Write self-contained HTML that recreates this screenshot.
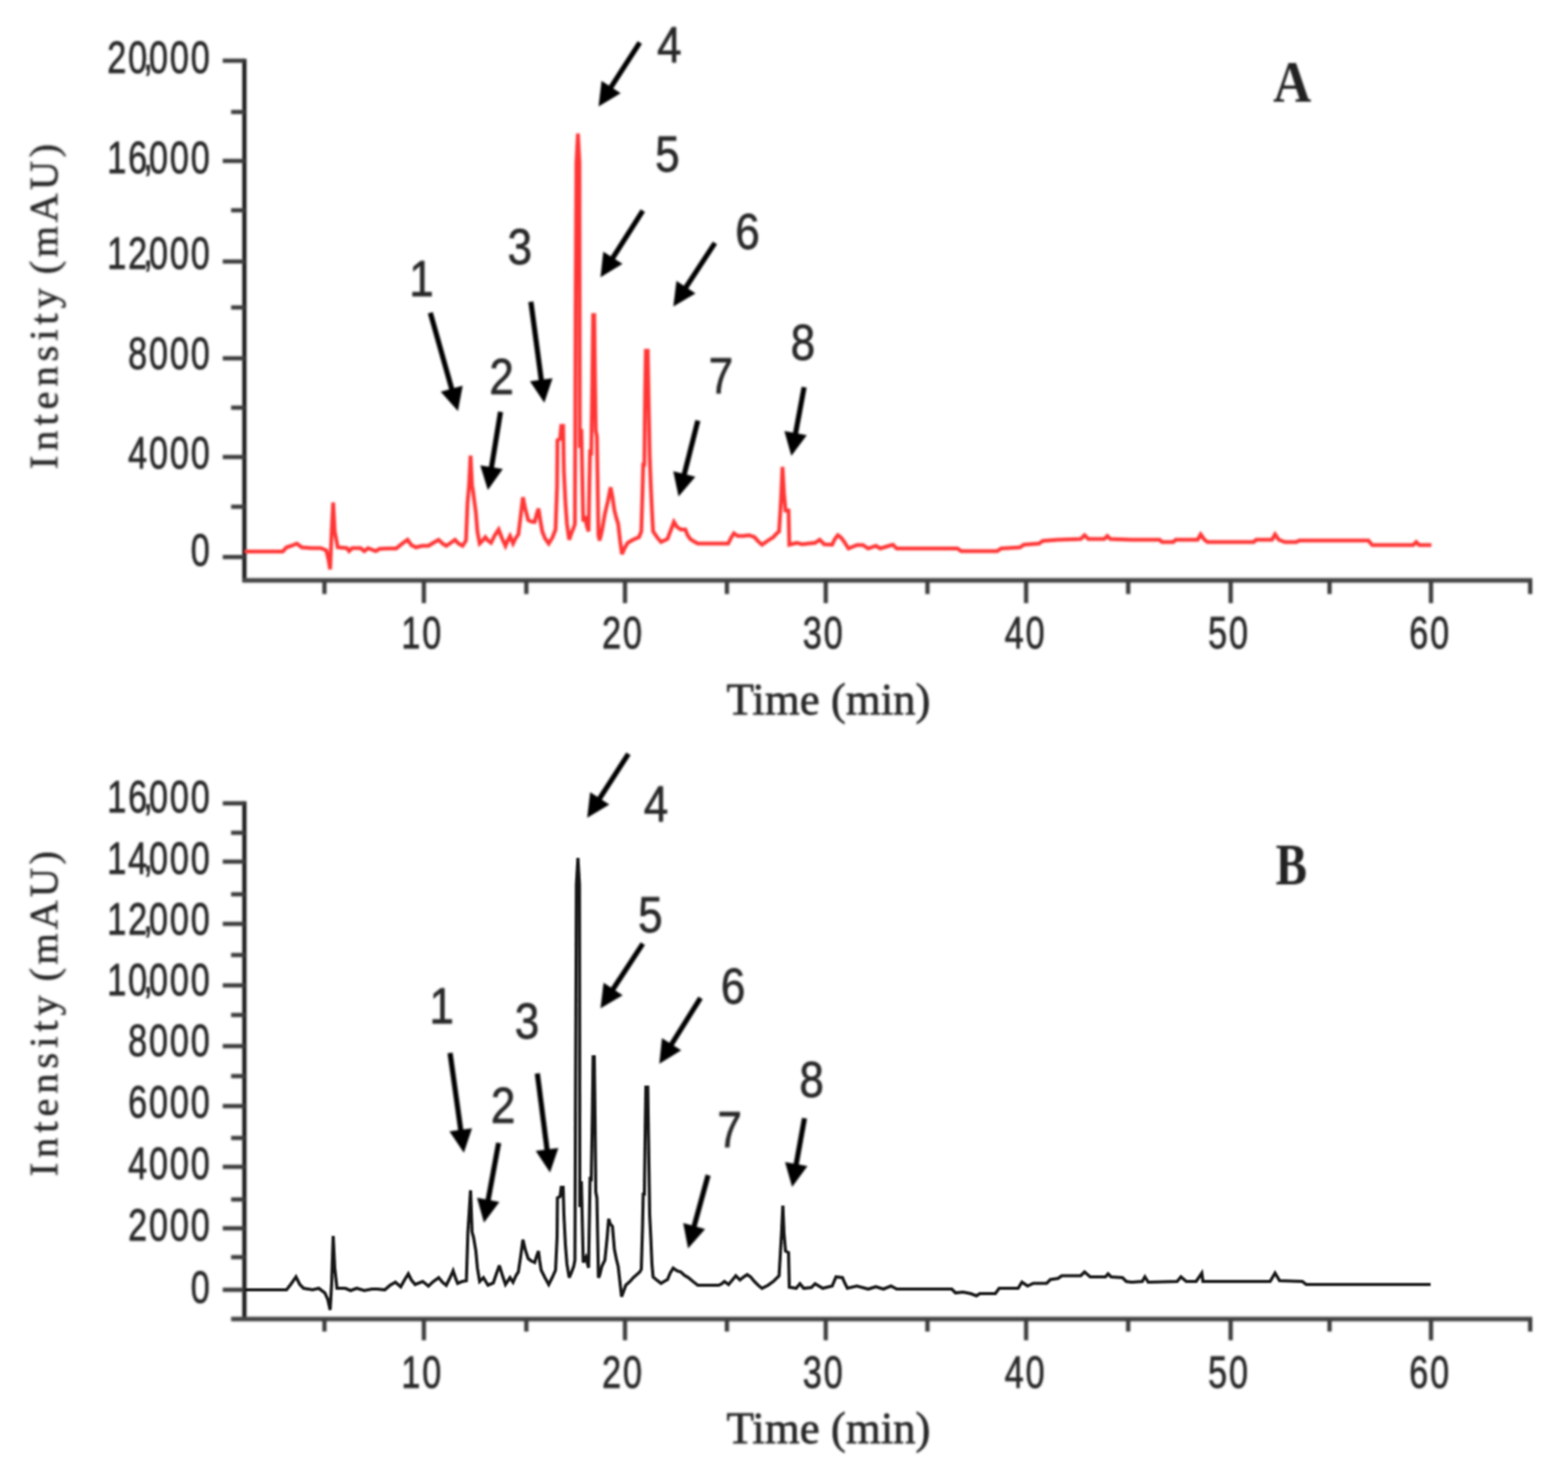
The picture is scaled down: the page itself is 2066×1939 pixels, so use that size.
<!DOCTYPE html>
<html lang="en"><head><meta charset="utf-8"><title>Chromatograms A and B</title>
<style>html,body{margin:0;padding:0;background:#fff;}body{width:2066px;height:1939px;overflow:hidden;}svg{display:block;}</style>
</head><body>
<svg width="2066" height="1939" viewBox="0 0 2066 1939">
<defs>
<filter id="bl" x="0" y="0" width="2066" height="1939" filterUnits="userSpaceOnUse"><feGaussianBlur stdDeviation="1.6"/></filter>
<filter id="bt" x="0" y="0" width="2066" height="1939" filterUnits="userSpaceOnUse"><feGaussianBlur stdDeviation="1.4"/></filter>
<filter id="bk" x="0" y="0" width="2066" height="1939" filterUnits="userSpaceOnUse"><feGaussianBlur stdDeviation="1.25"/></filter>
</defs>
<rect width="2066" height="1939" fill="#fff"/>
<g filter="url(#bl)">
<line x1="322" y1="77.5" x2="322" y2="767" stroke="#1c1c1c" stroke-width="5.6"/>
<line x1="319.5" y1="764.5" x2="2019" y2="764.5" stroke="#444" stroke-width="6.2"/>
<line x1="293.5" y1="80" x2="322" y2="80" stroke="#3c3c3c" stroke-width="5.6"/>
<line x1="304.5" y1="147.5" x2="322" y2="147.5" stroke="#3c3c3c" stroke-width="5.6"/>
<line x1="293.5" y1="212" x2="322" y2="212" stroke="#3c3c3c" stroke-width="5.6"/>
<line x1="304.5" y1="277" x2="322" y2="277" stroke="#3c3c3c" stroke-width="5.6"/>
<line x1="293.5" y1="344.5" x2="322" y2="344.5" stroke="#3c3c3c" stroke-width="5.6"/>
<line x1="304.5" y1="405" x2="322" y2="405" stroke="#3c3c3c" stroke-width="5.6"/>
<line x1="293.5" y1="472" x2="322" y2="472" stroke="#3c3c3c" stroke-width="5.6"/>
<line x1="304.5" y1="537" x2="322" y2="537" stroke="#3c3c3c" stroke-width="5.6"/>
<line x1="293.5" y1="602" x2="322" y2="602" stroke="#3c3c3c" stroke-width="5.6"/>
<line x1="304.5" y1="667.5" x2="322" y2="667.5" stroke="#3c3c3c" stroke-width="5.6"/>
<line x1="293.5" y1="733.75" x2="322" y2="733.75" stroke="#3c3c3c" stroke-width="5.6"/>
<line x1="427.5" y1="764.5" x2="427.5" y2="782.5" stroke="#3c3c3c" stroke-width="5.6"/>
<line x1="558.5" y1="764.5" x2="558.5" y2="794.5" stroke="#3c3c3c" stroke-width="5.6"/>
<line x1="693.5" y1="764.5" x2="693.5" y2="782.5" stroke="#3c3c3c" stroke-width="5.6"/>
<line x1="823.5" y1="764.5" x2="823.5" y2="794.5" stroke="#3c3c3c" stroke-width="5.6"/>
<line x1="957.8" y1="764.5" x2="957.8" y2="782.5" stroke="#3c3c3c" stroke-width="5.6"/>
<line x1="1088.0" y1="764.5" x2="1088.0" y2="794.5" stroke="#3c3c3c" stroke-width="5.6"/>
<line x1="1222.0" y1="764.5" x2="1222.0" y2="782.5" stroke="#3c3c3c" stroke-width="5.6"/>
<line x1="1352.0" y1="764.5" x2="1352.0" y2="794.5" stroke="#3c3c3c" stroke-width="5.6"/>
<line x1="1486.5" y1="764.5" x2="1486.5" y2="782.5" stroke="#3c3c3c" stroke-width="5.6"/>
<line x1="1621.5" y1="764.5" x2="1621.5" y2="794.5" stroke="#3c3c3c" stroke-width="5.6"/>
<line x1="1751.8" y1="764.5" x2="1751.8" y2="782.5" stroke="#3c3c3c" stroke-width="5.6"/>
<line x1="1885.5" y1="764.5" x2="1885.5" y2="794.5" stroke="#3c3c3c" stroke-width="5.6"/>
<line x1="2016.2" y1="764.5" x2="2016.2" y2="782.5" stroke="#3c3c3c" stroke-width="5.6"/>
<line x1="322" y1="1055.5" x2="322" y2="1740" stroke="#1c1c1c" stroke-width="5.6"/>
<line x1="304.5" y1="1737.5" x2="2019" y2="1737.5" stroke="#444" stroke-width="6.2"/>
<line x1="293.5" y1="1058.2" x2="322" y2="1058.2" stroke="#3c3c3c" stroke-width="5.6"/>
<line x1="304.5" y1="1097.0" x2="322" y2="1097.0" stroke="#3c3c3c" stroke-width="5.6"/>
<line x1="293.5" y1="1135.0" x2="322" y2="1135.0" stroke="#3c3c3c" stroke-width="5.6"/>
<line x1="304.5" y1="1178.0" x2="322" y2="1178.0" stroke="#3c3c3c" stroke-width="5.6"/>
<line x1="293.5" y1="1217.0" x2="322" y2="1217.0" stroke="#3c3c3c" stroke-width="5.6"/>
<line x1="304.5" y1="1258.0" x2="322" y2="1258.0" stroke="#3c3c3c" stroke-width="5.6"/>
<line x1="293.5" y1="1298.0" x2="322" y2="1298.0" stroke="#3c3c3c" stroke-width="5.6"/>
<line x1="304.5" y1="1337.0" x2="322" y2="1337.0" stroke="#3c3c3c" stroke-width="5.6"/>
<line x1="293.5" y1="1378.0" x2="322" y2="1378.0" stroke="#3c3c3c" stroke-width="5.6"/>
<line x1="304.5" y1="1417.5" x2="322" y2="1417.5" stroke="#3c3c3c" stroke-width="5.6"/>
<line x1="293.5" y1="1457.0" x2="322" y2="1457.0" stroke="#3c3c3c" stroke-width="5.6"/>
<line x1="304.5" y1="1499.0" x2="322" y2="1499.0" stroke="#3c3c3c" stroke-width="5.6"/>
<line x1="293.5" y1="1537.0" x2="322" y2="1537.0" stroke="#3c3c3c" stroke-width="5.6"/>
<line x1="304.5" y1="1580.0" x2="322" y2="1580.0" stroke="#3c3c3c" stroke-width="5.6"/>
<line x1="293.5" y1="1618.0" x2="322" y2="1618.0" stroke="#3c3c3c" stroke-width="5.6"/>
<line x1="304.5" y1="1656.0" x2="322" y2="1656.0" stroke="#3c3c3c" stroke-width="5.6"/>
<line x1="293.5" y1="1699.0" x2="322" y2="1699.0" stroke="#3c3c3c" stroke-width="5.6"/>
<line x1="427.5" y1="1737.5" x2="427.5" y2="1754.0" stroke="#3c3c3c" stroke-width="5.6"/>
<line x1="558.5" y1="1737.5" x2="558.5" y2="1765.5" stroke="#3c3c3c" stroke-width="5.6"/>
<line x1="693.5" y1="1737.5" x2="693.5" y2="1754.0" stroke="#3c3c3c" stroke-width="5.6"/>
<line x1="823.5" y1="1737.5" x2="823.5" y2="1765.5" stroke="#3c3c3c" stroke-width="5.6"/>
<line x1="957.8" y1="1737.5" x2="957.8" y2="1754.0" stroke="#3c3c3c" stroke-width="5.6"/>
<line x1="1088.0" y1="1737.5" x2="1088.0" y2="1765.5" stroke="#3c3c3c" stroke-width="5.6"/>
<line x1="1222.0" y1="1737.5" x2="1222.0" y2="1754.0" stroke="#3c3c3c" stroke-width="5.6"/>
<line x1="1352.0" y1="1737.5" x2="1352.0" y2="1765.5" stroke="#3c3c3c" stroke-width="5.6"/>
<line x1="1486.5" y1="1737.5" x2="1486.5" y2="1754.0" stroke="#3c3c3c" stroke-width="5.6"/>
<line x1="1621.5" y1="1737.5" x2="1621.5" y2="1765.5" stroke="#3c3c3c" stroke-width="5.6"/>
<line x1="1751.8" y1="1737.5" x2="1751.8" y2="1754.0" stroke="#3c3c3c" stroke-width="5.6"/>
<line x1="1885.5" y1="1737.5" x2="1885.5" y2="1765.5" stroke="#3c3c3c" stroke-width="5.6"/>
<line x1="2016.2" y1="1737.5" x2="2016.2" y2="1754.0" stroke="#3c3c3c" stroke-width="5.6"/>
</g>
<g filter="url(#bt)">
<text transform="translate(278.8,96.1) scale(0.754,1)" text-anchor="end" font-family="'Liberation Sans', Arial, sans-serif" font-size="60" letter-spacing="3.1" fill="#262626" stroke="#262626" stroke-width="0.9">20<tspan dx="-10.2" dy="-4">,</tspan><tspan dx="-9.6" dy="4">000</tspan></text>
<text transform="translate(278.8,228.1) scale(0.754,1)" text-anchor="end" font-family="'Liberation Sans', Arial, sans-serif" font-size="60" letter-spacing="3.1" fill="#262626" stroke="#262626" stroke-width="0.9">16<tspan dx="-10.2" dy="-4">,</tspan><tspan dx="-9.6" dy="4">000</tspan></text>
<text transform="translate(278.8,354.1) scale(0.754,1)" text-anchor="end" font-family="'Liberation Sans', Arial, sans-serif" font-size="60" letter-spacing="3.1" fill="#262626" stroke="#262626" stroke-width="0.9">12<tspan dx="-10.2" dy="-4">,</tspan><tspan dx="-9.6" dy="4">000</tspan></text>
<text transform="translate(278.8,486.1) scale(0.754,1)" text-anchor="end" font-family="'Liberation Sans', Arial, sans-serif" font-size="60" letter-spacing="3.1" fill="#262626" stroke="#262626" stroke-width="0.9">8000</text>
<text transform="translate(278.8,617.1) scale(0.754,1)" text-anchor="end" font-family="'Liberation Sans', Arial, sans-serif" font-size="60" letter-spacing="3.1" fill="#262626" stroke="#262626" stroke-width="0.9">4000</text>
<text transform="translate(278.8,744.6) scale(0.754,1)" text-anchor="end" font-family="'Liberation Sans', Arial, sans-serif" font-size="60" letter-spacing="3.1" fill="#262626" stroke="#262626" stroke-width="0.9">0</text>
<text transform="translate(278.8,1070.1) scale(0.754,1)" text-anchor="end" font-family="'Liberation Sans', Arial, sans-serif" font-size="60" letter-spacing="3.1" fill="#262626" stroke="#262626" stroke-width="0.9">16<tspan dx="-10.2" dy="-4">,</tspan><tspan dx="-9.6" dy="4">000</tspan></text>
<text transform="translate(278.8,1151.1) scale(0.754,1)" text-anchor="end" font-family="'Liberation Sans', Arial, sans-serif" font-size="60" letter-spacing="3.1" fill="#262626" stroke="#262626" stroke-width="0.9">14<tspan dx="-10.2" dy="-4">,</tspan><tspan dx="-9.6" dy="4">000</tspan></text>
<text transform="translate(278.8,1231.1) scale(0.754,1)" text-anchor="end" font-family="'Liberation Sans', Arial, sans-serif" font-size="60" letter-spacing="3.1" fill="#262626" stroke="#262626" stroke-width="0.9">12<tspan dx="-10.2" dy="-4">,</tspan><tspan dx="-9.6" dy="4">000</tspan></text>
<text transform="translate(278.8,1311.1) scale(0.754,1)" text-anchor="end" font-family="'Liberation Sans', Arial, sans-serif" font-size="60" letter-spacing="3.1" fill="#262626" stroke="#262626" stroke-width="0.9">10<tspan dx="-10.2" dy="-4">,</tspan><tspan dx="-9.6" dy="4">000</tspan></text>
<text transform="translate(278.8,1391.1) scale(0.754,1)" text-anchor="end" font-family="'Liberation Sans', Arial, sans-serif" font-size="60" letter-spacing="3.1" fill="#262626" stroke="#262626" stroke-width="0.9">8000</text>
<text transform="translate(278.8,1472.1) scale(0.754,1)" text-anchor="end" font-family="'Liberation Sans', Arial, sans-serif" font-size="60" letter-spacing="3.1" fill="#262626" stroke="#262626" stroke-width="0.9">6000</text>
<text transform="translate(278.8,1553.1) scale(0.754,1)" text-anchor="end" font-family="'Liberation Sans', Arial, sans-serif" font-size="60" letter-spacing="3.1" fill="#262626" stroke="#262626" stroke-width="0.9">4000</text>
<text transform="translate(278.8,1634.1) scale(0.754,1)" text-anchor="end" font-family="'Liberation Sans', Arial, sans-serif" font-size="60" letter-spacing="3.1" fill="#262626" stroke="#262626" stroke-width="0.9">2000</text>
<text transform="translate(278.8,1716.1) scale(0.754,1)" text-anchor="end" font-family="'Liberation Sans', Arial, sans-serif" font-size="60" letter-spacing="3.1" fill="#262626" stroke="#262626" stroke-width="0.9">0</text>
<text transform="translate(556.2,853.6) scale(0.754,1)" text-anchor="middle" font-family="'Liberation Sans', Arial, sans-serif" font-size="60" font-weight="normal" letter-spacing="3.1" fill="#262626" stroke="#262626" stroke-width="0.9">10</text>
<text transform="translate(820.7,853.6) scale(0.754,1)" text-anchor="middle" font-family="'Liberation Sans', Arial, sans-serif" font-size="60" font-weight="normal" letter-spacing="3.1" fill="#262626" stroke="#262626" stroke-width="0.9">20</text>
<text transform="translate(1085.2,853.6) scale(0.754,1)" text-anchor="middle" font-family="'Liberation Sans', Arial, sans-serif" font-size="60" font-weight="normal" letter-spacing="3.1" fill="#262626" stroke="#262626" stroke-width="0.9">30</text>
<text transform="translate(1351.2,853.6) scale(0.754,1)" text-anchor="middle" font-family="'Liberation Sans', Arial, sans-serif" font-size="60" font-weight="normal" letter-spacing="3.1" fill="#262626" stroke="#262626" stroke-width="0.9">40</text>
<text transform="translate(1619.2,853.6) scale(0.754,1)" text-anchor="middle" font-family="'Liberation Sans', Arial, sans-serif" font-size="60" font-weight="normal" letter-spacing="3.1" fill="#262626" stroke="#262626" stroke-width="0.9">50</text>
<text transform="translate(1884.2,853.6) scale(0.754,1)" text-anchor="middle" font-family="'Liberation Sans', Arial, sans-serif" font-size="60" font-weight="normal" letter-spacing="3.1" fill="#262626" stroke="#262626" stroke-width="0.9">60</text>
<text transform="translate(556.2,1828.1) scale(0.754,1)" text-anchor="middle" font-family="'Liberation Sans', Arial, sans-serif" font-size="60" font-weight="normal" letter-spacing="3.1" fill="#262626" stroke="#262626" stroke-width="0.9">10</text>
<text transform="translate(820.7,1828.1) scale(0.754,1)" text-anchor="middle" font-family="'Liberation Sans', Arial, sans-serif" font-size="60" font-weight="normal" letter-spacing="3.1" fill="#262626" stroke="#262626" stroke-width="0.9">20</text>
<text transform="translate(1085.2,1828.1) scale(0.754,1)" text-anchor="middle" font-family="'Liberation Sans', Arial, sans-serif" font-size="60" font-weight="normal" letter-spacing="3.1" fill="#262626" stroke="#262626" stroke-width="0.9">30</text>
<text transform="translate(1351.2,1828.1) scale(0.754,1)" text-anchor="middle" font-family="'Liberation Sans', Arial, sans-serif" font-size="60" font-weight="normal" letter-spacing="3.1" fill="#262626" stroke="#262626" stroke-width="0.9">40</text>
<text transform="translate(1619.2,1828.1) scale(0.754,1)" text-anchor="middle" font-family="'Liberation Sans', Arial, sans-serif" font-size="60" font-weight="normal" letter-spacing="3.1" fill="#262626" stroke="#262626" stroke-width="0.9">50</text>
<text transform="translate(1884.2,1828.1) scale(0.754,1)" text-anchor="middle" font-family="'Liberation Sans', Arial, sans-serif" font-size="60" font-weight="normal" letter-spacing="3.1" fill="#262626" stroke="#262626" stroke-width="0.9">60</text>
<text transform="translate(1091.7,940.6) scale(0.985,1)" text-anchor="middle" font-family="'Liberation Serif', 'Times New Roman', serif" font-size="60" fill="#262626" stroke="#262626" stroke-width="0.9">Time (min)</text>
<text transform="translate(1091.7,1900.7) scale(0.985,1)" text-anchor="middle" font-family="'Liberation Serif', 'Times New Roman', serif" font-size="60" fill="#262626" stroke="#262626" stroke-width="0.9">Time (min)</text>
<text transform="translate(75.5,401.5) rotate(-90)" text-anchor="middle" font-family="'Liberation Serif', 'Times New Roman', serif" font-size="53" letter-spacing="6.6" fill="#262626" stroke="#262626" stroke-width="0.7">Intensity<tspan dx="-6" letter-spacing="4.6"> (mAU)</tspan></text>
<text transform="translate(75.5,1333) rotate(-90)" text-anchor="middle" font-family="'Liberation Serif', 'Times New Roman', serif" font-size="53" letter-spacing="6.6" fill="#262626" stroke="#262626" stroke-width="0.7">Intensity<tspan dx="-6" letter-spacing="4.6"> (mAU)</tspan></text>
<text transform="translate(1702.5,133.5) scale(0.88,1)" text-anchor="middle" font-family="'Liberation Serif', 'Times New Roman', serif" font-size="79" font-weight="bold" fill="#202020">A</text>
<text transform="translate(1701.5,1164.5) scale(0.79,1)" text-anchor="middle" font-family="'Liberation Serif', 'Times New Roman', serif" font-size="78.5" font-weight="bold" fill="#202020">B</text>
<text transform="translate(882.0,82.3) scale(0.86,1)" text-anchor="middle" font-family="'Liberation Sans', Arial, sans-serif" font-size="67.5" font-weight="normal" letter-spacing="0" fill="#262626" stroke="#262626" stroke-width="0.9">4</text>
<text transform="translate(879.5,225.8) scale(0.86,1)" text-anchor="middle" font-family="'Liberation Sans', Arial, sans-serif" font-size="67.5" font-weight="normal" letter-spacing="0" fill="#262626" stroke="#262626" stroke-width="0.9">5</text>
<text transform="translate(685.0,347.8) scale(0.86,1)" text-anchor="middle" font-family="'Liberation Sans', Arial, sans-serif" font-size="67.5" font-weight="normal" letter-spacing="0" fill="#262626" stroke="#262626" stroke-width="0.9">3</text>
<text transform="translate(555.5,389.8) scale(0.86,1)" text-anchor="middle" font-family="'Liberation Sans', Arial, sans-serif" font-size="67.5" font-weight="normal" letter-spacing="0" fill="#262626" stroke="#262626" stroke-width="0.9">1</text>
<text transform="translate(985.0,327.8) scale(0.86,1)" text-anchor="middle" font-family="'Liberation Sans', Arial, sans-serif" font-size="67.5" font-weight="normal" letter-spacing="0" fill="#262626" stroke="#262626" stroke-width="0.9">6</text>
<text transform="translate(661.0,518.8) scale(0.86,1)" text-anchor="middle" font-family="'Liberation Sans', Arial, sans-serif" font-size="67.5" font-weight="normal" letter-spacing="0" fill="#262626" stroke="#262626" stroke-width="0.9">2</text>
<text transform="translate(950.0,518.3) scale(0.86,1)" text-anchor="middle" font-family="'Liberation Sans', Arial, sans-serif" font-size="67.5" font-weight="normal" letter-spacing="0" fill="#262626" stroke="#262626" stroke-width="0.9">7</text>
<text transform="translate(1058.0,474.3) scale(0.86,1)" text-anchor="middle" font-family="'Liberation Sans', Arial, sans-serif" font-size="67.5" font-weight="normal" letter-spacing="0" fill="#262626" stroke="#262626" stroke-width="0.9">8</text>
<text transform="translate(864.5,1081.8) scale(0.86,1)" text-anchor="middle" font-family="'Liberation Sans', Arial, sans-serif" font-size="67.5" font-weight="normal" letter-spacing="0" fill="#262626" stroke="#262626" stroke-width="0.9">4</text>
<text transform="translate(857.0,1228.3) scale(0.86,1)" text-anchor="middle" font-family="'Liberation Sans', Arial, sans-serif" font-size="67.5" font-weight="normal" letter-spacing="0" fill="#262626" stroke="#262626" stroke-width="0.9">5</text>
<text transform="translate(966.0,1321.8) scale(0.86,1)" text-anchor="middle" font-family="'Liberation Sans', Arial, sans-serif" font-size="67.5" font-weight="normal" letter-spacing="0" fill="#262626" stroke="#262626" stroke-width="0.9">6</text>
<text transform="translate(582.0,1347.8) scale(0.86,1)" text-anchor="middle" font-family="'Liberation Sans', Arial, sans-serif" font-size="67.5" font-weight="normal" letter-spacing="0" fill="#262626" stroke="#262626" stroke-width="0.9">1</text>
<text transform="translate(694.5,1368.3) scale(0.86,1)" text-anchor="middle" font-family="'Liberation Sans', Arial, sans-serif" font-size="67.5" font-weight="normal" letter-spacing="0" fill="#262626" stroke="#262626" stroke-width="0.9">3</text>
<text transform="translate(663.0,1478.8) scale(0.86,1)" text-anchor="middle" font-family="'Liberation Sans', Arial, sans-serif" font-size="67.5" font-weight="normal" letter-spacing="0" fill="#262626" stroke="#262626" stroke-width="0.9">2</text>
<text transform="translate(961.5,1510.8) scale(0.86,1)" text-anchor="middle" font-family="'Liberation Sans', Arial, sans-serif" font-size="67.5" font-weight="normal" letter-spacing="0" fill="#262626" stroke="#262626" stroke-width="0.9">7</text>
<text transform="translate(1069.5,1444.8) scale(0.86,1)" text-anchor="middle" font-family="'Liberation Sans', Arial, sans-serif" font-size="67.5" font-weight="normal" letter-spacing="0" fill="#262626" stroke="#262626" stroke-width="0.9">8</text>
</g>
<g filter="url(#bt)">
<line x1="843.0" y1="56.0" x2="803.0" y2="118.0" stroke="#000" stroke-width="6.8"/><polygon points="788.7,140.3 792.6,106.5 817.8,122.8" fill="#000"/>
<line x1="847.0" y1="277.5" x2="805.4" y2="342.9" stroke="#000" stroke-width="6.8"/><polygon points="791.2,365.3 794.9,331.5 820.2,347.6" fill="#000"/>
<line x1="942.0" y1="320.0" x2="901.7" y2="381.6" stroke="#000" stroke-width="6.8"/><polygon points="887.2,403.8 891.3,370.0 916.4,386.5" fill="#000"/>
<line x1="567.0" y1="412.0" x2="596.2" y2="515.9" stroke="#000" stroke-width="6.8"/><polygon points="603.4,541.4 580.7,516.1 609.6,508.0" fill="#000"/>
<line x1="699.5" y1="397.5" x2="713.7" y2="504.2" stroke="#000" stroke-width="6.8"/><polygon points="717.2,530.5 698.3,502.2 728.0,498.3" fill="#000"/>
<line x1="659.5" y1="542.5" x2="647.0" y2="619.3" stroke="#000" stroke-width="6.8"/><polygon points="642.8,645.5 632.8,613.0 662.5,617.8" fill="#000"/>
<line x1="919.5" y1="554.0" x2="900.7" y2="628.3" stroke="#000" stroke-width="6.8"/><polygon points="894.1,654.0 887.1,620.7 916.2,628.1" fill="#000"/>
<line x1="1059.5" y1="510.0" x2="1047.6" y2="574.4" stroke="#000" stroke-width="6.8"/><polygon points="1042.7,600.5 1033.5,567.8 1063.0,573.2" fill="#000"/>
<line x1="828.0" y1="993.0" x2="788.0" y2="1055.0" stroke="#000" stroke-width="6.8"/><polygon points="773.7,1077.3 777.6,1043.5 802.8,1059.8" fill="#000"/>
<line x1="847.0" y1="1243.0" x2="805.7" y2="1306.1" stroke="#000" stroke-width="6.8"/><polygon points="791.2,1328.3 795.3,1294.5 820.4,1311.0" fill="#000"/>
<line x1="923.0" y1="1314.5" x2="882.8" y2="1378.8" stroke="#000" stroke-width="6.8"/><polygon points="868.7,1401.3 872.2,1367.5 897.6,1383.4" fill="#000"/>
<line x1="593.0" y1="1387.0" x2="607.6" y2="1492.2" stroke="#000" stroke-width="6.8"/><polygon points="611.2,1518.5 592.2,1490.3 621.9,1486.2" fill="#000"/>
<line x1="708.0" y1="1414.0" x2="721.3" y2="1518.2" stroke="#000" stroke-width="6.8"/><polygon points="724.7,1544.5 705.9,1516.1 735.7,1512.3" fill="#000"/>
<line x1="657.0" y1="1505.5" x2="642.5" y2="1584.4" stroke="#000" stroke-width="6.8"/><polygon points="637.7,1610.5 628.5,1577.8 658.0,1583.2" fill="#000"/>
<line x1="933.0" y1="1548.0" x2="913.6" y2="1618.9" stroke="#000" stroke-width="6.8"/><polygon points="906.6,1644.4 900.2,1611.1 929.1,1619.0" fill="#000"/>
<line x1="1060.0" y1="1473.0" x2="1048.4" y2="1537.4" stroke="#000" stroke-width="6.8"/><polygon points="1043.7,1563.5 1034.4,1530.8 1063.9,1536.1" fill="#000"/>
</g>
<g filter="url(#bl)">
<polyline points="322.0,726.5 372.5,726.5 377.5,721.0 384.0,719.0 391.0,716.0 395.0,719.0 397.5,721.0 410.0,722.0 422.5,722.0 430.0,725.0 433.0,738.0 435.0,750.0 437.0,700.0 439.0,662.0 441.0,700.0 445.0,721.0 457.0,722.0 460.0,726.0 464.0,722.0 475.0,722.0 480.0,726.0 485.0,722.0 495.0,726.0 500.0,723.0 510.0,722.5 522.0,722.5 530.0,716.0 537.0,711.0 542.0,718.0 548.0,721.0 556.0,719.0 564.5,719.0 571.0,715.0 578.0,711.0 583.0,716.0 588.0,719.0 594.0,715.0 599.5,711.0 604.0,716.0 609.5,719.0 614.0,712.0 616.0,662.5 618.0,640.0 620.0,600.0 622.0,640.0 623.0,645.0 625.0,660.0 627.0,675.0 629.0,700.0 632.0,716.0 636.0,712.0 639.5,707.5 643.0,712.0 647.0,715.0 652.0,705.0 657.0,697.5 661.0,708.0 666.0,719.0 669.0,712.0 672.0,706.0 676.0,716.0 680.0,708.0 683.0,704.0 686.0,680.0 689.0,655.0 692.0,670.0 696.0,685.0 700.0,687.0 704.5,687.5 707.0,678.0 709.5,670.0 712.0,686.0 714.5,700.0 718.0,709.0 723.0,716.0 728.0,708.0 732.0,697.5 734.0,640.0 734.5,580.0 738.0,578.0 739.5,561.0 742.0,561.0 743.0,620.0 745.0,662.0 747.0,690.0 750.0,711.0 753.0,702.0 756.0,695.0 757.5,690.0 758.5,400.0 759.5,215.0 761.5,176.0 763.5,215.0 764.0,590.0 766.0,565.0 767.5,640.0 768.5,687.0 771.0,680.0 773.0,692.0 775.5,700.0 776.5,640.0 777.5,592.0 779.0,600.0 780.5,500.0 781.5,415.0 783.0,415.0 784.0,500.0 785.0,567.0 786.5,575.0 787.5,640.0 788.5,705.0 790.0,712.0 793.0,700.0 797.0,677.0 801.0,660.0 804.5,642.0 807.0,655.0 809.5,672.0 812.0,682.0 814.5,690.0 817.0,712.0 819.5,730.0 823.0,722.0 827.0,715.0 834.0,711.0 842.0,707.5 845.0,700.0 846.5,650.0 847.5,612.0 849.0,612.0 850.0,520.0 851.0,462.0 853.5,462.0 854.5,520.0 856.0,600.0 857.5,640.0 859.0,672.0 860.5,700.0 866.0,708.0 871.0,714.0 875.0,712.0 879.5,710.0 884.0,698.0 888.0,687.5 892.0,694.0 897.0,697.5 903.0,697.5 906.0,705.0 909.5,710.0 914.0,713.0 919.5,716.0 940.0,716.0 959.5,716.0 963.0,709.0 967.0,702.5 972.0,706.0 979.5,706.0 987.0,705.0 994.0,707.5 999.0,713.0 1004.0,717.5 1012.0,712.0 1019.0,707.5 1023.0,703.0 1026.5,700.0 1029.0,660.0 1031.0,615.0 1033.0,650.0 1035.0,672.5 1039.0,672.5 1040.0,717.5 1050.0,715.0 1057.0,717.0 1065.0,716.0 1074.0,715.0 1080.0,711.0 1086.0,717.0 1096.5,717.5 1100.0,710.0 1104.0,705.0 1108.0,708.0 1111.5,712.5 1118.0,722.5 1129.0,718.0 1137.0,718.0 1144.0,722.5 1154.0,719.0 1160.0,722.5 1168.0,720.0 1176.5,717.5 1181.5,722.5 1261.5,722.5 1266.5,726.0 1314.0,726.0 1319.0,722.5 1344.0,721.0 1349.0,717.5 1369.0,716.0 1374.0,712.5 1394.0,711.0 1424.0,710.0 1429.0,705.0 1434.0,710.0 1455.0,710.0 1459.0,706.0 1463.0,710.0 1491.0,711.0 1528.0,711.0 1531.0,714.0 1546.0,714.0 1549.0,711.0 1578.0,711.0 1582.0,704.0 1587.0,711.0 1591.0,714.0 1652.0,714.0 1655.0,711.0 1676.0,711.0 1680.0,704.0 1685.0,711.0 1693.0,714.0 1708.0,714.0 1712.0,712.0 1803.0,712.0 1808.0,718.0 1862.0,718.0 1866.0,714.0 1870.0,718.0 1886.0,718.0" fill="none" stroke="#ff3636" stroke-width="5.0" stroke-linejoin="miter" stroke-miterlimit="3" />
</g>
<g filter="url(#bk)">
<polyline points="322.0,1699.0 377.5,1699.0 383.0,1692.0 390.0,1682.0 395.0,1692.0 400.0,1697.0 412.0,1699.0 420.0,1697.0 428.0,1703.0 432.0,1712.0 435.0,1725.5 437.0,1690.0 439.0,1628.0 441.0,1670.0 444.0,1697.0 455.0,1697.0 462.0,1700.0 470.0,1697.0 480.0,1700.0 490.0,1698.0 497.0,1698.0 507.0,1699.0 514.0,1693.0 521.0,1689.0 528.0,1695.0 533.0,1686.0 538.0,1678.0 542.0,1686.0 547.0,1692.0 557.0,1688.0 564.5,1694.0 571.0,1688.0 578.0,1683.0 583.0,1689.0 588.0,1693.0 593.0,1683.0 597.0,1674.0 600.0,1683.0 603.0,1690.5 609.0,1688.0 614.5,1687.0 616.5,1623.0 618.0,1600.0 620.0,1568.0 622.0,1623.0 624.0,1630.0 627.0,1648.0 629.0,1670.0 632.0,1688.0 637.0,1683.0 643.0,1693.0 650.0,1690.0 654.0,1678.0 658.0,1667.0 662.0,1680.0 666.0,1692.0 672.0,1683.0 676.0,1689.0 680.0,1680.0 683.0,1675.5 686.0,1655.0 689.0,1633.0 692.0,1646.0 696.0,1658.0 700.0,1661.0 704.5,1663.0 707.0,1655.0 709.5,1648.0 711.0,1660.0 713.0,1673.0 718.0,1683.0 723.0,1692.0 728.0,1682.0 732.0,1673.0 734.0,1630.0 734.5,1578.0 738.0,1576.0 739.5,1564.0 742.0,1564.0 743.0,1600.0 745.0,1640.0 747.0,1665.0 750.0,1683.0 753.0,1676.0 756.0,1668.0 757.5,1660.0 758.5,1400.0 759.5,1165.0 761.5,1130.0 763.5,1165.0 764.0,1590.0 766.0,1556.0 767.5,1620.0 768.5,1663.0 772.0,1656.0 775.5,1670.0 776.5,1610.0 777.5,1550.0 779.0,1556.0 780.5,1470.0 781.5,1392.0 783.0,1392.0 784.0,1470.0 785.0,1570.0 786.5,1578.0 787.5,1630.0 788.5,1683.0 790.0,1680.0 793.0,1668.0 797.0,1660.0 800.0,1630.0 802.0,1605.5 804.0,1612.0 807.0,1615.5 809.5,1645.5 812.0,1658.0 814.5,1668.0 817.0,1690.0 819.0,1708.0 822.0,1700.0 824.5,1693.0 830.0,1688.0 834.5,1683.0 839.0,1679.0 843.0,1675.5 845.0,1672.0 846.5,1620.0 847.5,1573.0 849.0,1573.0 850.0,1500.0 851.0,1432.0 853.5,1432.0 854.5,1500.0 856.0,1600.0 857.5,1630.0 859.0,1665.0 860.5,1682.0 865.0,1686.0 871.0,1690.5 875.0,1688.0 879.5,1685.5 883.0,1677.0 887.0,1670.5 892.0,1674.0 897.0,1675.5 902.0,1680.0 907.0,1683.0 913.0,1688.0 919.5,1693.0 947.0,1693.0 951.0,1691.0 954.5,1688.0 960.0,1692.0 965.0,1686.0 969.5,1680.5 975.0,1686.0 980.0,1682.0 984.5,1679.0 989.0,1682.0 994.0,1688.0 999.0,1693.0 1004.0,1697.0 1012.0,1693.0 1019.0,1688.0 1023.0,1684.0 1026.5,1680.5 1028.0,1655.0 1030.0,1620.0 1031.5,1588.0 1033.0,1625.0 1035.0,1648.0 1039.0,1650.0 1040.0,1695.5 1049.0,1697.0 1054.0,1691.0 1059.0,1697.0 1069.0,1696.0 1074.0,1691.0 1084.0,1697.0 1096.5,1694.0 1099.0,1688.0 1101.5,1682.0 1110.0,1683.0 1113.0,1690.0 1116.5,1697.0 1129.0,1694.0 1144.0,1698.0 1154.0,1695.0 1164.0,1698.0 1174.0,1694.0 1181.5,1698.0 1254.0,1698.0 1259.0,1703.0 1269.0,1702.0 1279.0,1704.0 1286.5,1707.0 1291.0,1704.0 1311.5,1704.0 1316.5,1697.0 1341.5,1697.0 1346.5,1689.0 1354.0,1694.0 1361.5,1690.5 1379.0,1690.5 1384.0,1685.5 1394.0,1684.0 1399.0,1680.5 1424.0,1680.5 1429.0,1675.5 1436.5,1682.0 1456.5,1682.0 1460.0,1678.0 1464.0,1682.0 1479.0,1683.0 1484.0,1688.0 1491.0,1689.0 1505.0,1688.0 1508.5,1682.0 1513.0,1689.0 1551.0,1688.0 1556.0,1682.0 1563.0,1688.0 1576.0,1688.0 1583.5,1677.0 1585.0,1688.0 1591.0,1688.0 1673.5,1688.0 1680.0,1677.0 1686.0,1687.0 1716.0,1688.0 1721.0,1692.0 1885.0,1692.0" fill="none" stroke="#141414" stroke-width="4.1" stroke-linejoin="miter" stroke-miterlimit="3" />
</g>
</svg>
</body></html>
